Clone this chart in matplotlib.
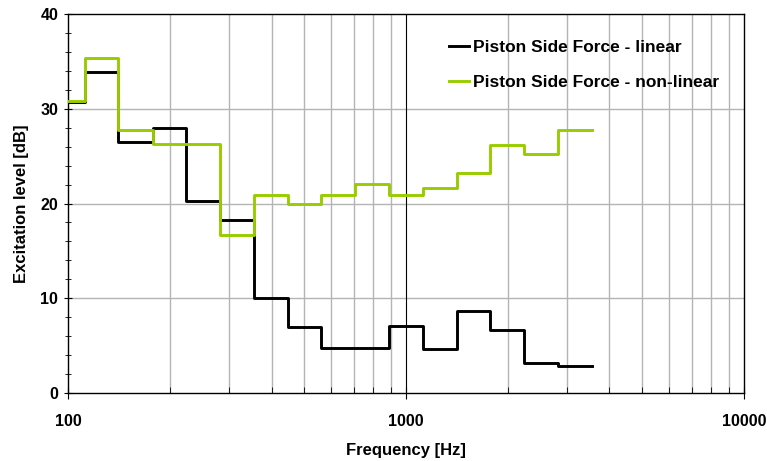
import matplotlib
matplotlib.use("Agg")
from matplotlib import pyplot as plt
from matplotlib.ticker import FixedLocator, NullFormatter

plt.rcParams['font.family'] = ['Liberation Sans', 'DejaVu Sans']
plt.rcParams['font.weight'] = 'bold'

# third-octave band edges (first band clipped at 100 Hz)
edges = [100, 112, 141, 178, 224, 282, 355, 447, 562, 708, 891,
         1122, 1413, 1778, 2239, 2818, 3548]
linear = [30.7, 33.9, 26.5, 28.0, 20.3, 18.3, 10.0, 7.0, 4.7, 4.8,
          7.1, 4.6, 8.7, 6.6, 3.2, 2.8]
nonlinear = [30.8, 35.4, 27.8, 26.3, 26.3, 16.7, 20.9, 20.0, 20.9, 22.1,
             20.9, 21.6, 23.2, 26.2, 25.2, 27.8]

fig = plt.figure(figsize=(7.67, 4.61), dpi=100)
ax = fig.add_axes([0.0887, 0.1475, 0.8813, 0.8221])

ax.set_xscale('log')
ax.set_xlim(100, 10000)
ax.set_ylim(0, 40)

minor_x = [200, 300, 400, 500, 600, 700, 800, 900,
           2000, 3000, 4000, 5000, 6000, 7000, 8000, 9000]
for xv in minor_x:
    ax.axvline(xv, color='#b4b4b4', lw=1.0, zorder=1)
for yv in [10, 20, 30]:
    ax.axhline(yv, color='#b4b4b4', lw=1.0, zorder=1)
ax.axvline(1000, color='black', lw=0.8, zorder=1)

ax.step(edges, linear + [linear[-1]], where='post', color='black', lw=2.1,
        label='Piston Side Force - linear', zorder=3)
ax.step(edges, nonlinear + [nonlinear[-1]], where='post', color='#99cc00', lw=2.1,
        label='Piston Side Force - non-linear', zorder=4)

ax.xaxis.set_major_locator(FixedLocator([100, 1000, 10000]))
ax.xaxis.set_major_formatter(matplotlib.ticker.FixedFormatter(['100', '1000', '10000']))
ax.xaxis.set_minor_locator(FixedLocator(minor_x))
ax.xaxis.set_minor_formatter(NullFormatter())
ax.tick_params(axis='x', which='major', direction='inout', length=8, width=0.8,
               labelsize=11.5, pad=11)
ax.tick_params(axis='x', which='minor', direction='in', length=4, width=0.6)

ax.set_yticks([0, 10, 20, 30, 40])
ax.set_yticks(range(0, 41, 2), minor=True)
ax.tick_params(axis='y', which='major', direction='inout', length=6, width=0.8,
               labelsize=11.5, pad=4)
ax.tick_params(axis='y', which='minor', direction='inout', length=5, width=0.6)

for lab in ax.get_xticklabels() + ax.get_yticklabels():
    lab.set_fontweight('bold')

for s in ax.spines.values():
    s.set_color('black')
    s.set_linewidth(1.0)

ax.set_xlabel('Frequency [Hz]', fontsize=12, fontweight='bold', labelpad=10)
ax.set_ylabel('Excitation level [dB]', fontsize=12, fontweight='bold', labelpad=8)

leg = ax.legend(loc='upper left', bbox_to_anchor=(0.540, 0.973), frameon=False,
                fontsize=12.5, handlelength=1.15, handletextpad=0.25, labelspacing=1.12)
for t in leg.get_texts():
    t.set_fontweight('bold')

fig.savefig('out.png', dpi=100)
